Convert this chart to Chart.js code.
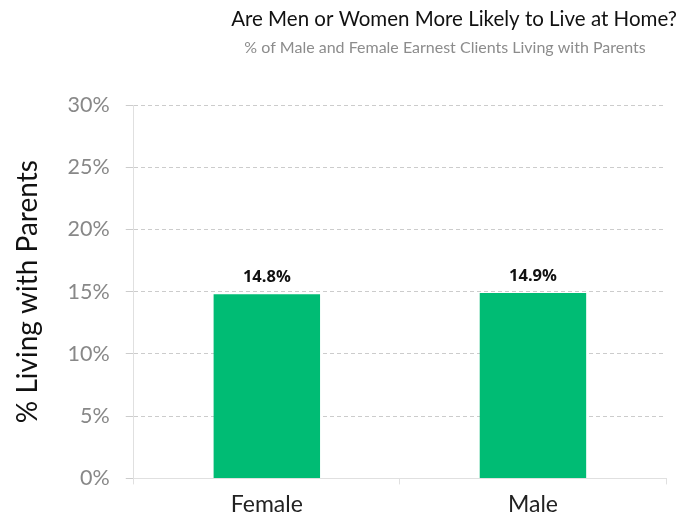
<!DOCTYPE html>
<html><head><meta charset="utf-8">
<script src="https://cdn.jsdelivr.net/npm/chart.js@4"></script>
<style>html,body{margin:0;padding:0;background:#fff}#wrap{width:677px;height:519px}</style>
</head><body><div id="wrap"><canvas id="c" width="677" height="519"></canvas></div>
<script>
const categories = ["Female", "Male"];
const values = [14.8, 14.9];
const valueLabels = ["14.8%", "14.9%"];
const titleText = "Are Men or Women More Likely to Live at Home?";
const subtitleText = "% of Male and Female Earnest Clients Living with Parents";
const yAxisTitle = "% Living with Parents";

const headerPlugin = {
  id: 'header',
  afterDraw(chart) {
    const ctx = chart.ctx;
    ctx.save();
    ctx.textAlign = 'center';
    ctx.textBaseline = 'middle';
    ctx.fillStyle = '#111';
    ctx.font = '20.5px Lato';
    ctx.fillText(titleText, 454, 19);
    ctx.fillStyle = '#8c8c8c';
    ctx.font = '16px Lato';
    ctx.fillText(subtitleText, 445, 48);
    ctx.restore();
  }
};
const labelPlugin = {
  id: 'vlabels',
  afterDatasetsDraw(chart) {
    const ctx = chart.ctx;
    const meta = chart.getDatasetMeta(0);
    ctx.save();
    ctx.textAlign = 'center';
    ctx.textBaseline = 'alphabetic';
    ctx.fillStyle = '#111';
    ctx.font = 'bold 16.5px "Open Sans"';
    meta.data.forEach((bar, i) => {
      ctx.fillText(valueLabels[i], bar.x, bar.y - 12);
    });
    ctx.restore();
  }
};

new Chart(document.getElementById('c'), {
  type: 'bar',
  data: {
    labels: categories,
    datasets: [{
      data: values,
      backgroundColor: '#00BC74',
      categoryPercentage: 0.4,
      barPercentage: 1.0
    }]
  },
  options: {
    responsive: false,
    animation: false,
    layout: { padding: { top: 105, right: 11, left: 9, bottom: -5 } },
    plugins: { legend: { display: false }, tooltip: { enabled: false } },
    scales: {
      x: {
        grid: { display: true, drawOnChartArea: false, color: '#e0e0e0', tickLength: 6, offset: true },
        border: { color: '#e0e0e0' },
        ticks: { color: '#222', font: { family: 'Lato', size: 23 }, padding: 6 }
      },
      y: {
        min: 0, max: 30,
        ticks: { stepSize: 5, color: '#888', font: { family: 'Lato', size: 21.5 }, padding: 16,
          callback: v => v + '%' },
        grid: { color: '#cccccc', tickLength: 8, drawTicks: true },
        border: { color: '#e0e0e0', dash: [4, 3] },
        title: { display: true, text: yAxisTitle, color: '#111', font: { family: 'Lato', size: 28 }, padding: { top: 2, bottom: 7 } }
      }
    }
  },
  plugins: [headerPlugin, labelPlugin]
});
</script></body></html>
